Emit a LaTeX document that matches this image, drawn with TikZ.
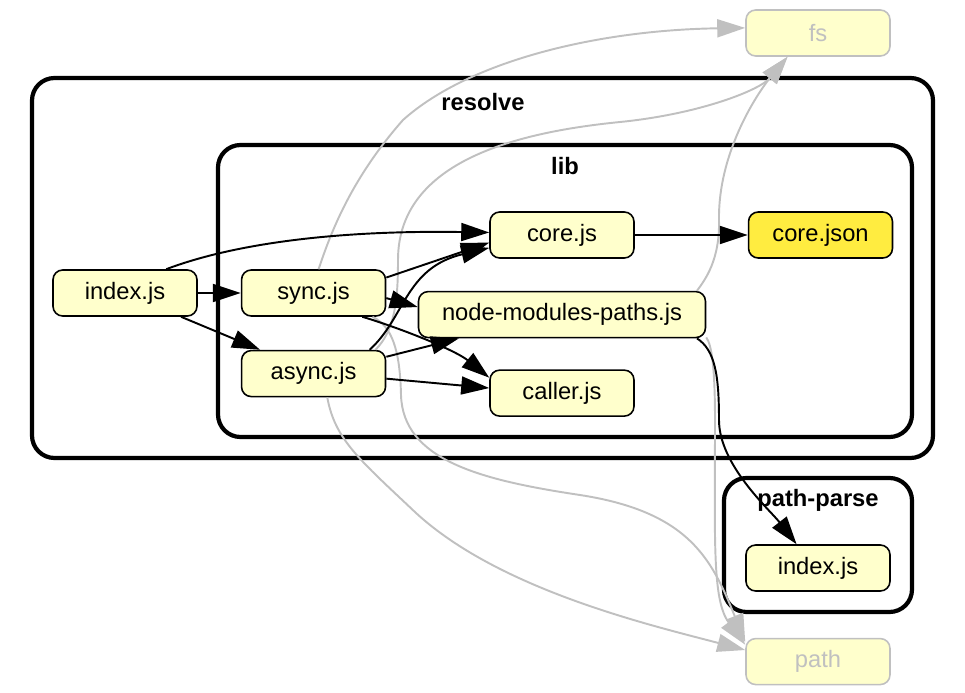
\documentclass[tikz,border=0pt]{standalone}
\usepackage{fontspec}
\setmainfont{Liberation Sans}
\usetikzlibrary{arrows.meta,positioning}
\definecolor{jsfill}{HTML}{FFFFCC}
\definecolor{jsonfill}{HTML}{FFEC40}
\definecolor{extgray}{HTML}{C0C0C0}

\begin{document}
\begin{tikzpicture}[
    x=0.02cm, y=-0.02cm,
    >={Triangle[length=0.56cm,width=0.36cm]},
    font=\fontsize{13.5}{16}\selectfont,
    box/.style={draw, rounded corners=5.5pt, align=center, line width=0.9pt, minimum width=2.88cm, minimum height=0.92cm, inner sep=0pt, fill=jsfill},
    json/.style={box, fill=jsonfill},
    ext/.style={box, draw=extgray, text=extgray},
    cluster/.style={draw, line width=2.4pt, rounded corners=0.45cm},
    clabel/.style={font=\fontsize{13.5}{16}\selectfont\bfseries},
    dep/.style={->, line width=1.1pt},
    extdep/.style={->, line width=1.1pt, extgray}
]
\useasboundingbox (0,0) rectangle (965,693);

\draw[cluster] (32,78) rectangle (933,458);
\node[clabel] (resolvelbl) at (483,102) {resolve};
\draw[cluster] (218,145) rectangle (912,437);
\node[clabel] (liblbl) at (565,166) {lib};
\draw[cluster] (724,478) rectangle (912,612);
\node[clabel] (pplbl) at (818,500) {path-parse};

\node[box] (idx) at (125,293) {index.js};
\node[box, right=0.86cm of idx] (sync) {sync.js};
\node[box, below=0.66cm of sync] (async) {async.js};
\node[box] (core) at (562,235) {core.js};
\node[json, right=2.26cm of core] (corejson) {core.json};
\node[box, minimum width=5.74cm, below=0.64cm of core] (nmp) {node-modules-paths.js};
\node[box, below=0.62cm of nmp] (caller) {caller.js};
\node[ext] (fsmod) at (818,33) {fs};
\node[box] (ppidx) at (818,568) {index.js};
\node[ext, below=0.92cm of ppidx] (pathmod) {path};

\draw[extdep] (sync.78) .. controls (330,235) and (350,180) .. (403,120)
    .. controls (470,60) and (600,30) .. (fsmod.176);
\draw[extdep] (async.21) .. controls (395,330) and (398,300) .. (398,260)
    .. controls (398,160) and (520,132) .. (620,122)
    .. controls (700,114) and (760,90) .. (fsmod.-142);
\draw[extdep] (nmp.10) .. controls (705,280) and (720,260) .. (719,220)
    .. controls (718,150) and (760,90) .. (fsmod.-142);
\draw[extdep] (sync.-22) .. controls (392,326) and (400,350) .. (401,395)
    .. controls (403,460) and (480,480) .. (580,495)
    .. controls (690,512) and (712,560) .. (pathmod.165);
\draw[extdep] (async.-60) .. controls (335,440) and (360,460) .. (416,513)
    .. controls (500,590) and (650,625) .. (pathmod.171);
\draw[extdep] (nmp.-9) .. controls (712,345) and (715,370) .. (715,420)
    .. controls (715,540) and (712,600) .. (pathmod.167);

\draw[dep] (idx) -- (sync);
\draw[dep] (idx.-23) -- (async.156);
\draw[dep] (idx.30) .. controls (230,245) and (330,230) .. (core.178);
\draw[dep] (sync.12) -- (core.186);
\draw[dep] (sync.-4) -- (nmp.177);
\draw[dep] (sync.-26) .. controls (400,328) and (455,350) .. (caller.168);
\draw[dep] (async.23) .. controls (405,318) and (405,268) .. (core.190);
\draw[dep] (async.13) -- (nmp.193);
\draw[dep] (async.-4) -- (caller.176);
\draw[dep] (core) -- (corejson);
\draw[dep] (nmp.-10) .. controls (715,350) and (719,375) .. (719,420)
    .. controls (719,465) and (770,510) .. (ppidx.132);
\end{tikzpicture}
\end{document}
